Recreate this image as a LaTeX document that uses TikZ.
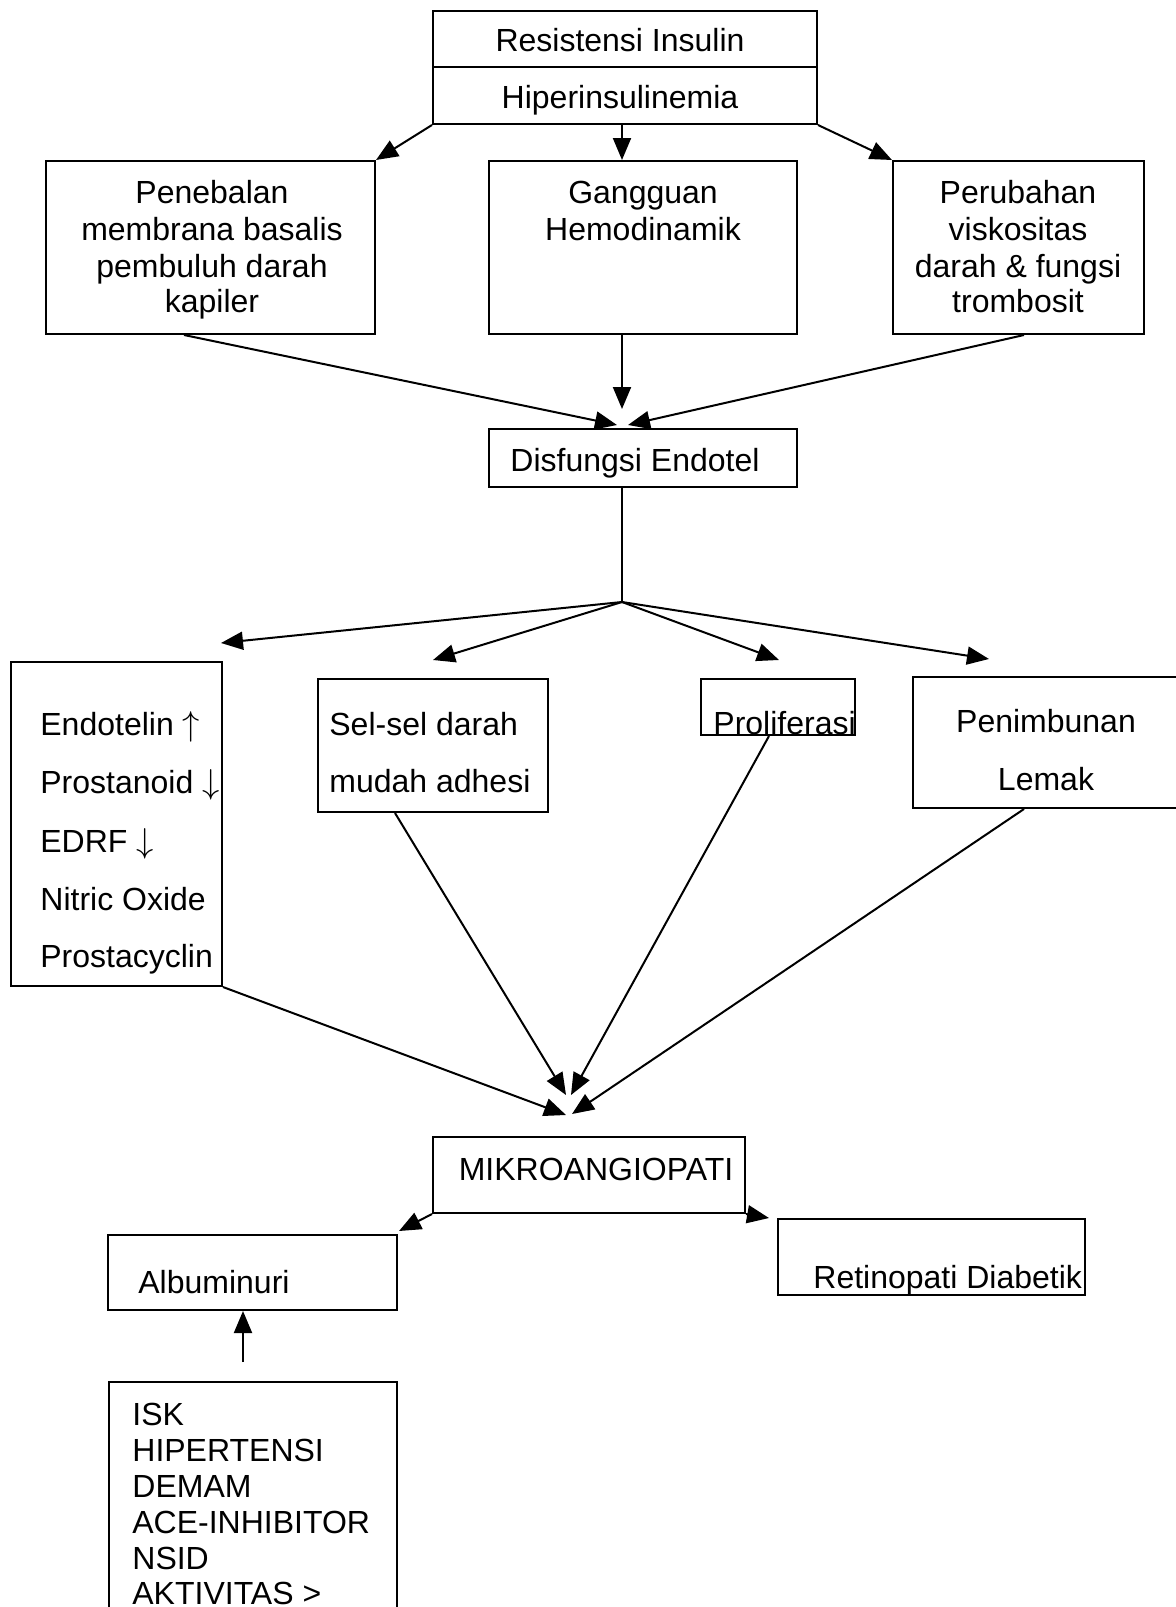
\documentclass[tikz,border=0pt]{standalone}
\usepackage{fontspec}
\setmainfont{Liberation Sans}
\usetikzlibrary{arrows.meta,fit,calc}
\begin{document}
\begin{tikzpicture}[x=0.5pt,y=-0.5pt,
  box/.style={draw, line width=1pt, inner sep=0pt},
  txt/.style={inner sep=0pt, font=\fontsize{16}{18.4}\selectfont},
  arr/.style={line width=1pt, -{Triangle[length=11pt,width=9pt]}},
  ln/.style={line width=1pt}]
\useasboundingbox (0,0) rectangle (1176,1607);
\fill[white] (0,0) rectangle (1176,1607);
\clip (0,0) rectangle (1176,1607);

% boxes
\node[box, fit={(433,11)(817,67)}] (topA) {};
\node[box, fit={(433,67)(817,124)}] (topB) {};
\node[box, fit={(46,161)(375,334)}] (L) {};
\node[box, fit={(489,161)(797,334)}] (M) {};
\node[box, fit={(893,161)(1144,334)}] (R) {};
\node[box, fit={(489,429)(797,487)}] (D) {};
\node[box, fit={(11,662)(222,986)}] (E) {};
\node[box, fit={(318,679)(548,812)}] (S) {};
\node[box, fit={(701,679)(855,735)}] (P) {};
\node[box, fit={(913,677)(1190,808)}] (N) {};
\node[box, fit={(433,1137)(745,1213)}] (Mk) {};
\node[box, fit={(108,1235)(397,1310)}] (A) {};
\node[box, fit={(778,1219)(1085,1295)}] (Rt) {};
\node[box, fit={(109,1382)(397,1660)}] (I) {};

% texts
\node[txt, anchor=base] at (620,51) {Resistensi Insulin};
\node[txt, anchor=base] at (620,108) {Hiperinsulinemia};

\node[txt, anchor=base] at (212,203) {Penebalan};
\node[txt, anchor=base] at (212,240) {membrana basalis};
\node[txt, anchor=base] at (212,277) {pembuluh darah};
\node[txt, anchor=base] at (212,312) {kapiler};

\node[txt, anchor=base] at (643,203) {Gangguan};
\node[txt, anchor=base] at (643,240) {Hemodinamik};

\node[txt, anchor=base] at (1018,203) {Perubahan};
\node[txt, anchor=base] at (1018,240) {viskositas};
\node[txt, anchor=base] at (1018,277) {darah \& fungsi};
\node[txt, anchor=base] at (1018,312) {trombosit};

\node[txt, anchor=base] at (635,471) {Disfungsi Endotel};

\node[txt, anchor=base west] at (40,735) {Endotelin $\uparrow$};
\node[txt, anchor=base west] at (40,793) {Prostanoid $\downarrow$};
\node[txt, anchor=base west] at (40,852) {EDRF $\downarrow$};
\node[txt, anchor=base west] at (40,910) {Nitric Oxide};
\node[txt, anchor=base west] at (40,967) {Prostacyclin};

\node[txt, anchor=base west] at (329,735) {Sel-sel darah};
\node[txt, anchor=base west] at (329,792) {mudah adhesi};

\node[txt, anchor=base west] at (713,734) {Proliferasi};

\node[txt, anchor=base] at (1046,732) {Penimbunan};
\node[txt, anchor=base] at (1046,790) {Lemak};

\node[txt, anchor=base] at (596,1180) {MIKROANGIOPATI};
\node[txt, anchor=base west] at (138,1293) {Albuminuri};
\node[txt, anchor=base west] at (813,1288) {Retinopati Diabetik};

\node[txt, anchor=base west] at (132,1425) {ISK};
\node[txt, anchor=base west] at (132,1461) {HIPERTENSI};
\node[txt, anchor=base west] at (132,1497) {DEMAM};
\node[txt, anchor=base west] at (132,1533) {ACE-INHIBITOR};
\node[txt, anchor=base west] at (132,1569) {NSID};
\node[txt, anchor=base west] at (132,1604) {AKTIVITAS >};

% connectors top
\draw[arr] (topB.south west) -- (L.north east);
\draw[arr] ($(topB.south)+(-3,0)$) -- ($(M.north)+(-21,0)$);
\draw[arr] (topB.south east) -- (R.north west);

% to Disfungsi
\draw[arr] ($(L.south west)!0.42!(L.south east)$) -- ($(D.north)+(-26,-3)$);
\draw[arr] ($(M.south)+(-21,0)$) -- ($(D.north)+(-21,-19)$);
\draw[arr] ($(R.south west)+(132,0)$) -- ($(D.north)+(-15,-3)$);

% junction
\coordinate (j) at (622,602);
\draw[ln] ($(D.south)+(-21,0)$) -- (j);
\draw[arr] (j) -- ($(E.north east)+(-2,-18)$);
\draw[arr] (j) -- ($(S.north)+(0,-18)$);
\draw[arr] (j) -- ($(P.north)+(1,-18)$);
\draw[arr] (j) -- ($(N.north west)+(77,-17)$);

% to Mikroangiopati
\draw[arr] (E.south east) -- ($(Mk.north)+(-23,-21)$);
\draw[arr] ($(S.south)+(-38,0)$) -- ($(Mk.north)+(-23,-41)$);
\draw[arr] ($(P.south)+(-9,0)$) -- ($(Mk.north)+(-18,-41)$);
\draw[arr] ($(N.south west)+(112,0)$) -- ($(Mk.north)+(-17,-22)$);

% to Albuminuri / Retinopati
\draw[arr] (Mk.south west) -- ($(A.north east)+(1,-3)$);
\draw[arr] (Mk.south east) -- ($(Rt.north west)+(-8,0)$);

% ISK factors to Albuminuri
\coordinate (ia) at (243,1362);
\draw[arr] (ia) -- (ia |- A.south);
\end{tikzpicture}
\end{document}
